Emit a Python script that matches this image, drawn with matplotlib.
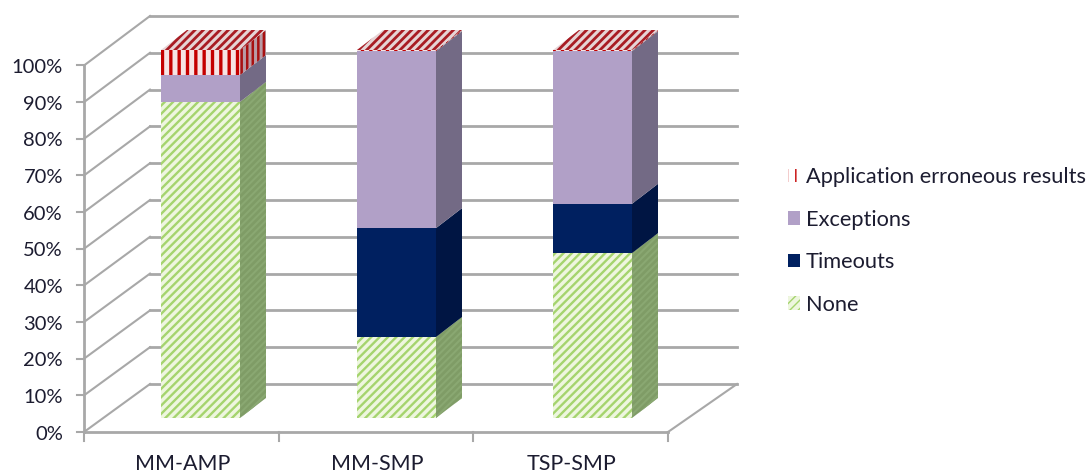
import numpy as np
import matplotlib
matplotlib.use("Agg")
import matplotlib.pyplot as plt
from matplotlib.patches import Patch

plt.rcParams["font.family"] = ["Lato", "DejaVu Sans"]

categories = ["MM-AMP", "MM-SMP", "TSP-SMP"]
series_names = ["None", "Timeouts", "Exceptions", "Application erroneous results"]
none_vals = [85.9, 22.0, 44.8]
timeouts_vals = [0.0, 29.6, 13.4]
exceptions_vals = [7.3, 48.1, 41.5]
app_error_vals = [6.8, 0.3, 0.3]
y_ticks = list(range(0, 101, 10))

W, H = 1088, 472
# bar plane: category i sits at px 200.5 + 196 i, 0% at py 418, 100% at py 50
X0, SLOT, Y0, YS = 200.5, 196.0, 418.0, 3.68
GRID = "#a8a8a8"
TEXT = "#1c1c30"


def dx(px):
    return px / SLOT


def dy(px):
    return px / YS


fig = plt.figure(figsize=(W / 100, H / 100), dpi=100)
ax = fig.add_axes([0, 0, 1, 1])
ax.set_xlim(-X0 / SLOT, (W - X0) / SLOT)
ax.set_ylim((Y0 - H) / YS, Y0 / YS)
ax.axis("off")

# walls, in offsets from the bar plane
front_l, front_r = -X0 / SLOT + dx(84), -X0 / SLOT + dx(668)
back_l, back_r = -X0 / SLOT + dx(150), -X0 / SLOT + dx(737)
front_off, back_off = dy(-14), dy(34)

for t in y_ticks:
    yf = t * 366.5 / 368 + front_off
    yb = t + back_off
    ax.plot([back_l, back_r], [yb, yb], color=GRID, lw=2.0, zorder=1)
    ax.plot([front_l, back_l], [yf, yb], color=GRID, lw=1.5, zorder=1)
    ax.plot([front_l - dx(7), front_l], [yf, yf], color=GRID, lw=1.5, zorder=1)
    ax.text(front_l - dx(21), yf - dy(2), f"{t}%", ha="right", va="center", fontsize=14.5, color=TEXT)

ax.plot([front_l, front_l], [front_off, 100 * 366.5 / 368 + front_off], color=GRID, lw=2.0, zorder=1)
ax.plot([front_l, front_r], [front_off, front_off], color=GRID, lw=2.0, zorder=1)
ax.plot([front_r, back_r], [front_off, back_off], color=GRID, lw=1.5, zorder=1)

for k in range(len(categories) + 1):
    xt = front_l + (front_r - front_l) * k / len(categories)
    ax.plot([xt, xt], [front_off, front_off - dy(9)], color=GRID, lw=1.5, zorder=1)

for i, name in enumerate(categories):
    xc = front_l + (front_r - front_l) * (i + 0.5) / len(categories) + dx(1)
    ax.text(xc, front_off - dy(32), name, ha="center", va="center", fontsize=15.5, color=TEXT)

# bars: front, side and top faces
BAR_W = 79 / SLOT
DEPTH_X, DEPTH_Y = dx(26), dy(20)
stack = [none_vals, timeouts_vals, exceptions_vals, app_error_vals]
front_style = [
    dict(facecolor="#eef6df", edgecolor="#a5d46e", hatch="////", hatch_linewidth=1.7),
    dict(facecolor="#002060", edgecolor="#002060"),
    dict(facecolor="#b1a0c7", edgecolor="#b1a0c7"),
    dict(facecolor="#f6e4e4", edgecolor="#c40000", hatch="||", hatch_linewidth=2.4),
]
side_style = [
    dict(facecolor="#7f9c66", edgecolor="#8aa872", hatch="/////", hatch_linewidth=1.5),
    dict(facecolor="#001543", edgecolor="#001543"),
    dict(facecolor="#736a85", edgecolor="#736a85"),
    dict(facecolor="#b89aa4", edgecolor="#a81010", hatch="|||", hatch_linewidth=1.8),
]
top_style = dict(facecolor="#e6d4d6", edgecolor="#a81c24", hatch="////", hatch_linewidth=2.0)

for i in range(len(categories)):
    base = 0.0
    l, r = i - BAR_W / 2, i + BAR_W / 2
    for vals, fs, ss in zip(stack, front_style, side_style):
        v = vals[i]
        if v > 0:
            top = base + v
            ax.fill([l, r, r, l], [base, base, top, top], linewidth=0, zorder=3, **fs)
            ax.fill([r, r + DEPTH_X, r + DEPTH_X, r],
                    [base, base + DEPTH_Y, top + DEPTH_Y, top], linewidth=0, zorder=3, **ss)
            base = top
    ax.fill([l, r, r + DEPTH_X, l + DEPTH_X],
            [base, base, base + DEPTH_Y, base + DEPTH_Y], linewidth=0, zorder=3, **top_style)

handles = [Patch(linewidth=0, **front_style[k]) for k in (3, 2, 1, 0)]
handles[0] = Patch(facecolor="white", edgecolor="#c40000", hatch="||", hatch_linewidth=2.4, linewidth=0)
ax.legend(handles, [series_names[k] for k in (3, 2, 1, 0)],
          loc="center left", bbox_to_anchor=(788 / W, 1 - 241 / H), frameon=False,
          fontsize=15.7, labelcolor=TEXT, handlelength=0.55, handleheight=0.55,
          handletextpad=0.28, labelspacing=1.03, borderpad=0, borderaxespad=0)

fig.savefig("out.png", dpi=100)
